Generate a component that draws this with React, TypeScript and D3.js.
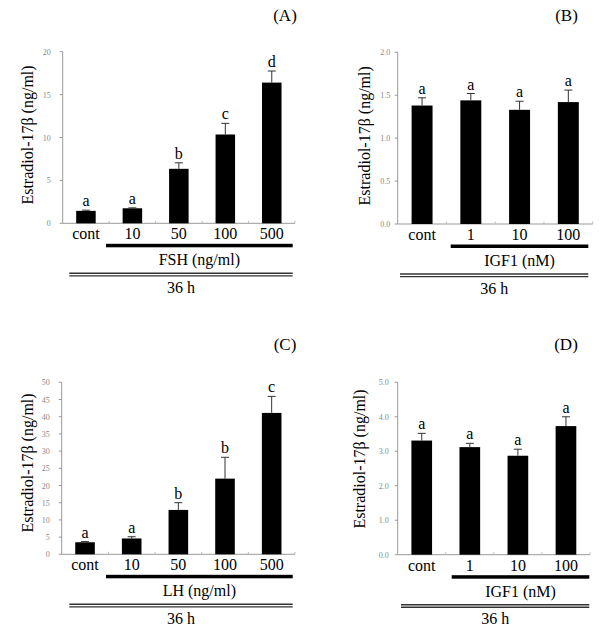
import * as d3 from "d3";

// panel A: FSH dose response
const fshDoses = ["cont", "10", "50", "100", "500"];
const fshMean = [1.45, 1.75, 6.35, 10.35, 16.4];
const fshErr = [0.08, 0.05, 0.7, 1.3, 1.35];
const fshLetters = ["a", "a", "b", "c", "d"];
const fshTicks = [0, 5, 10, 15, 20];

// panel B: IGF1 (with FSH)
const igfDoses = ["cont", "1", "10", "100"];
const igfMeanB = [1.38, 1.44, 1.33, 1.42];
const igfErrB = [0.09, 0.08, 0.1, 0.14];
const igfLettersB = ["a", "a", "a", "a"];
const igfTicksB = [0, 0.5, 1.0, 1.5, 2.0];

// panel C: LH dose response
const lhDoses = ["cont", "10", "50", "100", "500"];
const lhMean = [3.5, 4.6, 12.9, 22.0, 41.1];
const lhErr = [0.2, 0.5, 2.1, 6.2, 4.8];
const lhLetters = ["a", "a", "b", "b", "c"];
const lhTicks = [0, 5, 10, 15, 20, 25, 30, 35, 40, 45, 50];

// panel D: IGF1 (with LH)
const igfMeanD = [3.31, 3.12, 2.87, 3.73];
const igfErrD = [0.21, 0.11, 0.19, 0.27];
const igfLettersD = ["a", "a", "a", "a"];
const igfTicksD = [0, 1.0, 2.0, 3.0, 4.0, 5.0];

const yTitle = "Estradiol-17β (ng/ml)";
const serif = "'Liberation Serif', 'Times New Roman', serif";

type PanelProps = {
  tag: string;
  doses: string[];
  mean: number[];
  err: number[];
  letters: string[];
  ticks: number[];
  fmt: (v: number) => string;
  treatment: string;
  x0: number;
  x1: number;
  y0: number;
  y1: number;
  pad: number;
  tickPad: number;
  barStart: number;
  dblStart: number;
  dblEnd: number;
  titleX: number;
  titleY: number;
  tagX: number;
  tagY: number;
};

function Panel(p: PanelProps) {
  const x = d3
    .scaleBand<string>()
    .domain(p.doses)
    .range([p.x0, p.x1])
    .paddingInner(p.pad)
    .paddingOuter(p.pad / 2);
  const y = d3
    .scaleLinear()
    .domain([0, p.ticks[p.ticks.length - 1]])
    .range([p.y0, p.y1]);
  const bw = x.bandwidth();
  const step = x.step();
  const bounds = d3.range(1, p.doses.length + 1).map((i) => p.x0 + i * step);
  const midX = (p.barStart + p.dblEnd) / 2;

  return (
    <g>
      <text x={p.tagX} y={p.tagY} fontFamily={serif} fontSize={17} textAnchor="middle">
        {p.tag}
      </text>
      <text
        transform={`translate(${p.titleX},${p.titleY}) rotate(-90)`}
        fontFamily={serif}
        fontSize={16}
        textAnchor="middle"
      >
        {yTitle}
      </text>
      {/* axes */}
      <line x1={p.x0} x2={p.x0} y1={p.y0} y2={p.y1} stroke="#999" />
      <line x1={p.x0} x2={p.x1} y1={p.y0} y2={p.y0} stroke="#999" />
      {p.ticks.map((t) => (
        <g key={t}>
          <line x1={p.x0 - 3} x2={p.x0} y1={y(t)} y2={y(t)} stroke="#999" />
          <text
            x={p.x0 - p.tickPad}
            y={y(t) + 3}
            fontFamily={serif}
            fontSize={8}
            fill="#888"
            textAnchor="end"
          >
            {p.fmt(t)}
          </text>
        </g>
      ))}
      {bounds.map((b, i) => (
        <line key={i} x1={b} x2={b} y1={p.y0} y2={p.y0 - 2.5} stroke="#bbb" />
      ))}
      {/* bars */}
      {p.doses.map((d, i) => {
        const cx = (x(d) ?? 0) + bw / 2;
        const top = y(p.mean[i]);
        const et = y(p.mean[i] + p.err[i]);
        return (
          <g key={d}>
            <rect x={x(d)} y={top} width={bw} height={p.y0 - top} fill="#000" />
            <line x1={cx} x2={cx} y1={top} y2={et} stroke="#333" />
            <line x1={cx - 4} x2={cx + 4} y1={et} y2={et} stroke="#333" />
            <text x={cx} y={et - 4} fontFamily={serif} fontSize={16} textAnchor="middle">
              {p.letters[i]}
            </text>
            <text x={cx} y={p.y0 + 16} fontFamily={serif} fontSize={16} textAnchor="middle">
              {d}
            </text>
          </g>
        );
      })}
      {/* treatment bracket */}
      <rect x={p.barStart} y={p.y0 + 20.5} width={p.dblEnd - p.barStart} height={3.5} fill="#000" />
      <text x={midX} y={p.y0 + 42} fontFamily={serif} fontSize={16} textAnchor="middle">
        {p.treatment}
      </text>
      <line x1={p.dblStart} x2={p.dblEnd} y1={p.y0 + 50} y2={p.y0 + 50} stroke="#333" strokeWidth={1.4} />
      <line x1={p.dblStart} x2={p.dblEnd} y1={p.y0 + 52.6} y2={p.y0 + 52.6} stroke="#333" strokeWidth={1.4} />
      <text
        x={(p.dblStart + p.dblEnd) / 2}
        y={p.y0 + 69.5}
        fontFamily={serif}
        fontSize={16}
        textAnchor="middle"
      >
        36 h
      </text>
    </g>
  );
}

const int = (v: number) => d3.format("d")(v);
const one = (v: number) => d3.format(".1f")(v);

export default function App() {
  return (
    <svg
      width={600}
      height={629}
      style={{ position: "absolute", left: 0, top: 0, background: "#fff" }}
    >
      <Panel
        tag="(A)"
        doses={fshDoses}
        mean={fshMean}
        err={fshErr}
        letters={fshLetters}
        ticks={fshTicks}
        fmt={int}
        treatment="FSH (ng/ml)"
        x0={62.7}
        x1={295}
        y0={223.3}
        y1={51.7}
        pad={0.58}
        tickPad={12}
        barStart={106}
        dblStart={69.3}
        dblEnd={292.7}
        titleX={33}
        titleY={135}
        tagX={285}
        tagY={21}
      />
      <Panel
        tag="(B)"
        doses={igfDoses}
        mean={igfMeanB}
        err={igfErrB}
        letters={igfLettersB}
        ticks={igfTicksB}
        fmt={one}
        treatment="IGF1 (nM)"
        x0={397.7}
        x1={592.7}
        y0={224}
        y1={52.3}
        pad={0.57}
        tickPad={7.5}
        barStart={450.7}
        dblStart={400}
        dblEnd={588.3}
        titleX={370}
        titleY={135.8}
        tagX={566.5}
        tagY={21}
      />
      <Panel
        tag="(C)"
        doses={lhDoses}
        mean={lhMean}
        err={lhErr}
        letters={lhLetters}
        ticks={lhTicks}
        fmt={int}
        treatment="LH (ng/ml)"
        x0={61.7}
        x1={295}
        y0={554.3}
        y1={382.3}
        pad={0.58}
        tickPad={12}
        barStart={106}
        dblStart={69.3}
        dblEnd={292.7}
        titleX={33.3}
        titleY={463}
        tagX={285}
        tagY={350}
      />
      <Panel
        tag="(D)"
        doses={igfDoses}
        mean={igfMeanD}
        err={igfErrD}
        letters={igfLettersD}
        ticks={igfTicksD}
        fmt={one}
        treatment="IGF1 (nM)"
        x0={397.7}
        x1={590}
        y0={554.7}
        y1={382.3}
        pad={0.57}
        tickPad={9}
        barStart={451.7}
        dblStart={401}
        dblEnd={589.3}
        titleX={365}
        titleY={459}
        tagX={566}
        tagY={350}
      />
    </svg>
  );
}
